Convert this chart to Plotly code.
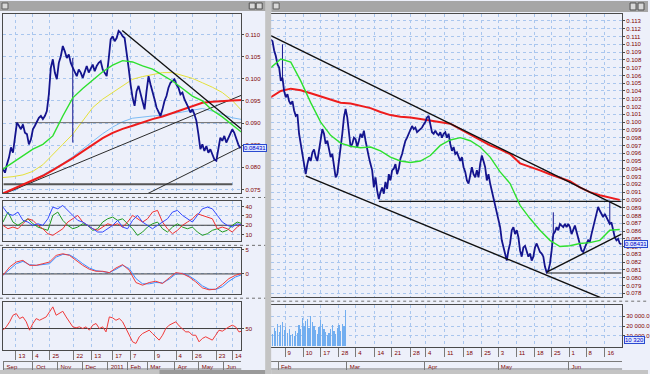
import plotly.graph_objects as go

W, H = 650, 374

# ---------------- LEFT WINDOW (daily bars; x = bar number) ----------------
left_close = [
    0.0796, 0.0788, 0.0807, 0.0822, 0.0845, 0.0833, 0.0867, 0.0901, 0.0894, 0.0886,
    0.0897, 0.0878, 0.0875, 0.0852, 0.0863, 0.0886, 0.0894, 0.0905, 0.0912, 0.0916,
    0.0909, 0.0916, 0.0927, 0.0965, 0.1025, 0.1044, 0.1014, 0.0999, 0.1036, 0.1051,
    0.1074, 0.1062, 0.1047, 0.1055, 0.1036, 0.1025, 0.1014, 0.1006, 0.1021, 0.1014,
    0.1002, 0.1017, 0.1029, 0.1014, 0.1025, 0.1032, 0.1017, 0.1029, 0.1036, 0.1040,
    0.1021, 0.1014, 0.1006, 0.1044, 0.1089, 0.1096, 0.1085, 0.1092, 0.1108, 0.1104,
    0.1096, 0.1092, 0.1062, 0.1025, 0.0987, 0.0957, 0.0939, 0.0972, 0.0984, 0.0965,
    0.0950, 0.0931, 0.0972, 0.1006, 0.0987, 0.0972, 0.0954, 0.0935, 0.0924, 0.0916,
    0.0931, 0.0950, 0.0961, 0.0980, 0.0991, 0.0995, 0.0999, 0.0987, 0.0980, 0.0965,
    0.0969, 0.0954, 0.0946, 0.0935, 0.0924, 0.0931, 0.0920, 0.0905, 0.0875, 0.0841,
    0.0852, 0.0837, 0.0848, 0.0833, 0.0841, 0.0830, 0.0818, 0.0815, 0.0845, 0.0867,
    0.0860, 0.0871, 0.0856, 0.0867, 0.0875, 0.0886, 0.0878, 0.0863, 0.0852, 0.0843,
]
left_wick_x = [35]
left_wick_hi = [0.1047]
left_wick_lo = [0.0856]

left_ma_x = [0, 5, 10, 15, 20, 25, 30, 35, 40, 45, 50, 55, 60, 65, 70, 75, 80, 85, 90, 95, 100, 105, 110, 115, 120]
left_ma_green = [0.0796, 0.0811, 0.0828, 0.0841, 0.0852, 0.0871, 0.0916, 0.0957, 0.0978, 0.0996, 0.1016, 0.1031, 0.1041,
                 0.1038, 0.1029, 0.1022, 0.1008, 0.0995, 0.0978, 0.0961, 0.0950, 0.0929, 0.0914, 0.0897, 0.0878]
left_ma_yellow = [0.0777, 0.0779, 0.0783, 0.0791, 0.0806, 0.0830, 0.0852, 0.0875, 0.0905, 0.0935, 0.0954, 0.0969, 0.0984,
                  0.0999, 0.1005, 0.1010, 0.1014, 0.1014, 0.1008, 0.1001, 0.0991, 0.0981, 0.0969, 0.0951, 0.0927]
left_ma_red = [0.0741, 0.0751, 0.0761, 0.0770, 0.0781, 0.0794, 0.0807, 0.0821, 0.0836, 0.0851, 0.0866, 0.0878, 0.0887,
               0.0894, 0.0902, 0.0909, 0.0915, 0.0923, 0.0931, 0.0939, 0.0946, 0.0948, 0.0950, 0.0951, 0.0952]
left_ma_blue_x = [5, 10, 15, 20, 25, 30, 35, 40, 45, 50, 55, 60, 65, 70, 75, 80, 85, 90, 95, 100, 105, 110, 115, 120]
left_ma_blue = [0.0746, 0.0758, 0.0770, 0.0783, 0.0796, 0.0809, 0.0824, 0.0841, 0.0860, 0.0876, 0.0891, 0.0903,
                0.0911, 0.0914, 0.0916, 0.0918, 0.0921, 0.0925, 0.0929, 0.0933, 0.0927, 0.0920, 0.0912, 0.0908]

# trend lines: (start bar, start price, end bar, end price)
left_trend_lines = [
    (59.8, 0.1109, 119.7, 0.0886),
    (1.0, 0.0741, 119.7, 0.0963),
    (72.7, 0.0741, 119.7, 0.0847),
]
left_levels = [(6.0, 119.7, 0.0901, "#6a6a6a", 1), (0.3, 115.0, 0.0762, "#555555", 2)]

adx_x = [i * 2.5 for i in range(49)]
adx_blue = [39.3, 32.2, 30.5, 34.0, 25.2, 23.4, 19.9, 21.6, 19.9, 26.9,
            39.3, 37.5, 41.1, 35.8, 30.5, 25.2, 23.4, 19.9, 16.3, 12.8,
            12.8, 16.3, 19.9, 25.2, 18.1, 16.3, 25.2, 30.5, 23.4, 19.9,
            16.3, 19.9, 23.4, 26.9, 34.0, 35.8, 30.5, 26.9, 23.4, 30.5,
            37.5, 39.3, 37.5, 30.5, 23.4, 19.9, 18.1, 21.6, 19.9]
adx_red = [19.9, 16.3, 18.1, 16.3, 21.6, 26.9, 25.2, 19.9, 16.3, 11.0,
           9.3, 12.8, 16.3, 23.4, 26.9, 30.5, 23.4, 19.9, 16.3, 14.6,
           18.1, 21.6, 19.9, 21.6, 18.1, 23.4, 30.5, 26.9, 23.4, 26.9,
           34.0, 35.8, 23.4, 16.3, 11.0, 14.6, 19.9, 23.4, 26.9, 32.2,
           30.5, 28.7, 26.9, 16.3, 18.1, 16.3, 12.8, 18.1, 21.6]
adx_green = [23.4, 34.0, 23.4, 19.9, 23.4, 26.9, 21.6, 18.1, 16.3, 14.6,
             30.5, 34.0, 25.2, 19.9, 16.3, 18.1, 21.6, 19.9, 14.6, 16.3,
             23.4, 26.9, 28.7, 25.2, 26.9, 21.6, 16.3, 9.3, 12.8, 18.1,
             21.6, 23.4, 16.3, 12.8, 18.1, 21.6, 18.1, 16.3, 18.1, 12.8,
             9.3, 11.0, 14.6, 16.3, 12.8, 14.6, 19.9, 23.4, 21.6]
adx_level = 20

macd_x = [i * 10 / 3 for i in range(37)]
macd_red = [-0.27, 1.44, 2.47, 2.81, 1.78, 1.78, 2.12, 2.47, 3.84, 4.18,
            3.84, 2.81, 1.78, 0.96, 0.55, 0.55, 0.27, 1.23, 1.92, 0.75,
            -1.78, -2.33, -1.78, -1.51, -1.99, -0.82, 0.27, 0.07, -0.62, -1.64,
            -2.88, -3.29, -3.15, -2.19, -0.96, -0.27, 0.14]
macd_blue = [-0.27, 0.96, 2.12, 2.60, 1.92, 1.78, 1.92, 2.12, 3.49, 4.04,
             3.97, 3.15, 2.12, 1.23, 0.68, 0.55, 0.27, 0.96, 1.78, 1.10,
             -0.96, -2.05, -2.05, -1.78, -1.85, -1.10, 0.0, 0.14, -0.41, -1.30,
             -2.47, -3.15, -3.22, -2.67, -1.51, -0.62, -0.14]

rsi_x = [i * 5 / 3 for i in range(73)]
rsi = [48.6, 51.4, 55.6, 61.1, 62.5, 58.3, 59.7, 55.6, 48.6, 54.2,
       58.3, 56.9, 58.3, 59.7, 63.9, 68.1, 61.1, 62.5, 64.4, 59.7,
       55.6, 51.4, 50.6, 51.4, 50.0, 51.4, 48.6, 52.8, 54.2, 50.0,
       51.4, 47.2, 59.7, 58.9, 56.9, 58.3, 55.6, 50.0, 43.1, 38.9,
       37.5, 43.1, 45.8, 47.2, 48.6, 45.8, 43.1, 40.3, 44.4, 50.0,
       52.8, 54.2, 55.6, 52.2, 50.0, 47.2, 47.2, 44.4, 44.4, 38.9,
       41.7, 43.1, 41.7, 40.3, 44.4, 48.6, 47.8, 50.0, 51.4, 52.8,
       51.4, 47.2, 47.8]
rsi_level = 50

left_price_ticks = [0.075, 0.080, 0.085, 0.090, 0.095, 0.100, 0.105, 0.110]
left_day_pos = [9.5, 17, 26.5, 38.5, 47.5, 58, 66, 78, 88.85, 98, 109.85, 118]
left_day_text = ["13", "4", "25", "22", "13", "17", "7", "9", "4", "26", "23", "14"]
left_day_sep = [6.5, 15, 23.5, 35.5, 44.5, 55, 64, 76, 86.85, 95, 106.85, 115]
left_month_pos = [4.5, 19, 31.5, 44, 57.25, 66.5, 76.5, 90, 102.5, 114.5]
left_month_text = ["Sep", "Oct", "Nov", "Dec", "2011", "Feb", "Mar", "Apr", "May", "Jun"]
left_month_sep = [0.5, 15, 27.5, 40, 52.5, 62.5, 72.5, 86, 98, 110.5]

# ---------------- RIGHT WINDOW (intraday bars; x = bar number) ----------------
right_close = [
    0.1106, 0.1104, 0.1092, 0.1085, 0.1074, 0.1070, 0.1053, 0.1057, 0.1040, 0.1032,
    0.1036, 0.1027, 0.1023, 0.1027, 0.1015, 0.1008, 0.1010, 0.0985, 0.0972, 0.0959,
    0.0950, 0.0933, 0.0946, 0.0955, 0.0950, 0.0961, 0.0965, 0.0955, 0.0950, 0.0963,
    0.0980, 0.0991, 0.0985, 0.0972, 0.0976, 0.0963, 0.0955, 0.0959, 0.0946, 0.0929,
    0.0933, 0.0950, 0.0963, 0.0985, 0.1006, 0.1017, 0.1006, 0.0989, 0.0968, 0.0972,
    0.0980, 0.0978, 0.0968, 0.0976, 0.0985, 0.0980, 0.0989, 0.0976, 0.0963, 0.0955,
    0.0946, 0.0938, 0.0916, 0.0929, 0.0912, 0.0901, 0.0910, 0.0916, 0.0908, 0.0923,
    0.0914, 0.0933, 0.0925, 0.0938, 0.0940, 0.0946, 0.0933, 0.0940, 0.0953, 0.0959,
    0.0968, 0.0976, 0.0980, 0.0985, 0.0989, 0.0995, 0.0991, 0.0993, 0.0987, 0.0989,
    0.0991, 0.0993, 0.0997, 0.1000, 0.1006, 0.1008, 0.0997, 0.0987, 0.0985, 0.0989,
    0.0985, 0.0983, 0.0987, 0.0980, 0.0985, 0.0987, 0.0980, 0.0985, 0.0972, 0.0963,
    0.0968, 0.0959, 0.0961, 0.0955, 0.0950, 0.0955, 0.0942, 0.0936, 0.0925, 0.0921,
    0.0933, 0.0942, 0.0933, 0.0929, 0.0938, 0.0929, 0.0946, 0.0957, 0.0950, 0.0942,
    0.0925, 0.0933, 0.0921, 0.0912, 0.0899, 0.0891, 0.0882, 0.0874, 0.0865, 0.0848,
    0.0839, 0.0829, 0.0822, 0.0835, 0.0844, 0.0861, 0.0865, 0.0856, 0.0861, 0.0852,
    0.0835, 0.0827, 0.0839, 0.0841, 0.0835, 0.0827, 0.0831, 0.0822, 0.0827, 0.0839,
    0.0844, 0.0837, 0.0833, 0.0831, 0.0827, 0.0814, 0.0807, 0.0809, 0.0818, 0.0835,
    0.0856, 0.0859, 0.0865, 0.0861, 0.0869, 0.0867, 0.0865, 0.0869, 0.0865, 0.0869,
    0.0865, 0.0856, 0.0861, 0.0867, 0.0859, 0.0852, 0.0844, 0.0835, 0.0833, 0.0839,
    0.0844, 0.0848, 0.0846, 0.0856, 0.0865, 0.0874, 0.0882, 0.0891, 0.0886, 0.0882,
    0.0878, 0.0882, 0.0878, 0.0874, 0.0869, 0.0871, 0.0861, 0.0852, 0.0848, 0.0850,
    0.0844, 0.0843,
]
right_wick_x = [7, 170, 204]
right_wick_hi = [0.1100, 0.0884, 0.0899]
right_wick_lo = [0.1053, 0.0856, 0.0869]

right_ma_x = [i * 6 for i in range(36)]
right_ma_green = [0.1070, 0.1081, 0.1077, 0.1053, 0.1025, 0.1000, 0.0983, 0.0973, 0.0969, 0.0967,
                  0.0968, 0.0963, 0.0955, 0.0950, 0.0948, 0.0950, 0.0957, 0.0970, 0.0977, 0.0980,
                  0.0976, 0.0968, 0.0955, 0.0936, 0.0921, 0.0893, 0.0876, 0.0861, 0.0848, 0.0840,
                  0.0841, 0.0844, 0.0845, 0.0848, 0.0861, 0.0862]
right_ma_red = [0.1032, 0.1040, 0.1043, 0.1041, 0.1037, 0.1033, 0.1028, 0.1025, 0.1024, 0.1021,
                0.1018, 0.1013, 0.1009, 0.1007, 0.1006, 0.1004, 0.1002, 0.1000, 0.0998, 0.0991,
                0.0984, 0.0977, 0.0970, 0.0965, 0.0959, 0.0947, 0.0943, 0.0938, 0.0933, 0.0928,
                0.0924, 0.0916, 0.0910, 0.0906, 0.0903, 0.0900]

right_trend_lines = [
    (0, 0.1111, 211, 0.0890),
    (21, 0.0931, 200, 0.0773),
    (166, 0.0807, 211, 0.0856),
]
right_levels = [(65, 211, 0.0898), (166, 211, 0.0806)]

volume_x = list(range(1, 46))
volume = [12000, 18000, 15000, 22000, 14000, 21000, 24000, 16000, 19000, 13000,
          17000, 11000, 12000, 10000, 15000, 13000, 21000, 17000, 28000, 20000,
          25000, 27000, 18000, 30000, 24000, 20000, 16000, 12000, 19000, 26000,
          22000, 17000, 14000, 11000, 13000, 17000, 21000, 15000, 12000, 18000,
          21000, 15000, 22000, 20000, 36000]
last_price = 0.08431
last_volume = 10320

right_price_ticks = [round(0.078 + 0.001 * n, 3) for n in range(36)]
volume_ticks = [10000, 20000, 30000]
right_day_pos = [11, 23, 33.6, 44.6, 53.6, 66.2, 76.4, 87.6, 95.6, 108, 119.6, 130.4, 139.4, 151.2, 162.2,
                 172.4, 182, 192.2, 204.6]
right_day_text = ["9", "10", "17", "28", "4", "14", "21", "28", "4", "11", "18", "25", "3", "11", "18",
                  "25", "1", "8", "16"]
right_day_sep = [8.6, 19.4, 30, 41, 51.2, 62.6, 72.8, 84, 93.2, 104.4, 116, 126.8, 137, 147.6, 158.6,
                 168.8, 179.6, 189.8, 201]
right_month_pos = [9.2, 50.6, 97.4, 141.8, 183.8]
right_month_text = ["Feb", "Mar", "Apr", "May", "Jun"]
right_month_sep = [4.4, 45.8, 92.6, 137, 179]

# ---------------- styling ----------------
BG = "#edf0fa"
GRID = "#a9c6ee"
FRAME = "#4a4a4a"
LBL = "#800000"
FONT = "Liberation Sans Narrow, Liberation Sans, Arial, sans-serif"
TF = dict(family=FONT, size=6, color=LBL)
NAVY = "#14148e"

LX = [0, 119.5]
RX = [0.2, 211.4]


def px(x):
    return x / W


def py(y):
    return 1 - y / H


fig = go.Figure()


def line(x, y, color, width, xa, ya, dash=None):
    fig.add_trace(go.Scatter(x=x, y=y, mode="lines", xaxis=xa, yaxis=ya, hoverinfo="skip",
                             line=dict(color=color, width=width, dash=dash), showlegend=False))


def wicks(xs, hi, lo, xa, ya):
    wx, wy = [], []
    for a, h, l in zip(xs, hi, lo):
        wx += [a, a, None]
        wy += [l, h, None]
    line(wx, wy, NAVY, 1, xa, ya)


# left main
line(left_ma_x, left_ma_yellow, "#e4e03a", 1, "x", "y")
line(left_ma_blue_x, left_ma_blue, "#7cbcf4", 1, "x", "y")
for x0, x1, lv, c, w in left_levels:
    line([x0, x1], [lv, lv], c, w, "x", "y")
for x0, y0, x1, y1 in left_trend_lines[1:]:
    line([x0, x1], [y0, y1], "#2a2a2a", 1, "x", "y")
line(left_ma_x, left_ma_red, "#ee1c1c", 2, "x", "y")
line(list(range(len(left_close))), left_close, NAVY, 1.8, "x", "y")
wicks(left_wick_x, left_wick_hi, left_wick_lo, "x", "y")
line(left_ma_x, left_ma_green, "#2ee02e", 1.4, "x", "y")
x0, y0, x1, y1 = left_trend_lines[0]
line([x0, x1], [y0, y1], "#101010", 1.4, "x", "y")

# left ADX
line([LX[0], LX[1]], [adx_level, adx_level], "#404040", 1, "x2", "y2")
line(adx_x, adx_green, "#1f9a1f", 1, "x2", "y2")
line(adx_x, adx_red, "#f03030", 1, "x2", "y2")
line(adx_x, adx_blue, "#3348ff", 1, "x2", "y2")

# left MACD
line([LX[0], LX[1]], [0, 0], "#404040", 1, "x3", "y3")
line(macd_x, macd_blue, "#3c8cff", 1, "x3", "y3")
line(macd_x, macd_red, "#f03a3a", 1, "x3", "y3")

# left RSI
line([LX[0], LX[1]], [rsi_level, rsi_level], "#404040", 1, "x4", "y4")
line(rsi_x, rsi, "#f03a3a", 1, "x4", "y4")
fig.add_trace(go.Scatter(x=[], y=[], xaxis="x7", yaxis="y4", showlegend=False))

# right main
for x0, x1, lv in right_levels:
    line([x0, x1], [lv, lv], "#1a1a1a", 1.2, "x5", "y5")
line(right_ma_x, right_ma_red, "#ee1c1c", 2, "x5", "y5")
line(list(range(len(right_close))), right_close, NAVY, 1.8, "x5", "y5")
wicks(right_wick_x, right_wick_hi, right_wick_lo, "x5", "y5")
line(right_ma_x, right_ma_green, "#2ee02e", 1.4, "x5", "y5")
for x0, y0, x1, y1 in right_trend_lines:
    line([x0, x1], [y0, y1], "#101010", 1.4, "x5", "y5")

# right volume
fig.add_trace(go.Bar(x=volume_x, y=volume, xaxis="x6", yaxis="y6", width=0.7,
                     marker=dict(color="#72aef0", line=dict(width=0)), showlegend=False, hoverinfo="skip"))
fig.add_trace(go.Scatter(x=[], y=[], xaxis="x8", yaxis="y6", showlegend=False))


def xax(dom, rng, sep, anchor):
    return dict(domain=dom, range=rng, anchor=anchor, tickmode="array", tickvals=sep,
                showticklabels=False, ticks="", showgrid=True, gridcolor=GRID, griddash="dot",
                gridwidth=1, showline=True, mirror=True, linecolor=FRAME, linewidth=1, zeroline=False,
                fixedrange=True)


def yax(dom, rng, tv, tt, anchor):
    return dict(domain=dom, range=rng, anchor=anchor, side="right", tickmode="array", tickvals=tv,
                ticktext=tt, tickfont=TF, ticks="outside", ticklen=2, tickcolor=FRAME,
                showgrid=True, gridcolor=GRID, griddash="dot", showline=True, mirror=True,
                linecolor=FRAME, linewidth=1, zeroline=False, fixedrange=True)


LXD = [px(3), px(242)]
RXD = [px(272), px(624)]

layout = dict(
    width=W, height=H, margin=dict(l=0, r=0, t=0, b=0),
    paper_bgcolor=BG, plot_bgcolor=BG, showlegend=False, hovermode=False, bargap=0,
    xaxis=xax(LXD, LX, left_day_sep, "y"),
    xaxis2=xax(LXD, LX, left_day_sep, "y2"),
    xaxis3=xax(LXD, LX, left_day_sep, "y3"),
    xaxis4=xax(LXD, LX, left_day_sep, "y4"),
    xaxis5=xax(RXD, RX, right_day_sep, "y5"),
    xaxis6=xax(RXD, RX, right_day_sep, "y6"),
    yaxis=yax([py(193), py(13)], [0.0741, 0.11464], left_price_ticks,
              [f"{v:.3f}" for v in left_price_ticks], "x"),
    yaxis2=yax([py(241), py(201)], [2.9, 45.3], [10, 20, 30, 40], ["10", "20", "30", "40"], "x2"),
    yaxis3=yax([py(294), py(248)], [-4.2, 5.3], [0, 5], ["0", "5"], "x3"),
    yaxis4=yax([py(350), py(302)], [32, 72], [rsi_level], [str(rsi_level)], "x4"),
    yaxis5=yax([py(297), py(13)], [0.07749, 0.1139], right_price_ticks,
               [f"{v:.3f}" for v in right_price_ticks], "x5"),
    yaxis6=yax([py(347), py(305)], [-1500, 41300], volume_ticks,
               [f"{v:,}".replace(",", " ") + ".0" for v in volume_ticks], "x6"),
)

for key, sep, pos, txt in (("xaxis4", left_day_sep, left_day_pos, left_day_text),
                           ("xaxis6", right_day_sep, right_day_pos, right_day_text)):
    layout[key].update(tickvals=pos, ticktext=txt, showticklabels=True, tickfont=TF, showgrid=False,
                       minor=dict(tickmode="array", tickvals=sep, ticks="outside", ticklen=9,
                                  tickcolor="#7a7a7a", showgrid=True, gridcolor=GRID, griddash="dot"))

for key, over, rng, pos, txt, sep in (("xaxis7", "x4", LX, left_month_pos, left_month_text, left_month_sep),
                                      ("xaxis8", "x6", RX, right_month_pos, right_month_text, right_month_sep)):
    layout[key] = dict(overlaying=over, anchor="free", position=py(361), range=rng,
                       tickmode="array", tickvals=pos, ticktext=txt, tickfont=TF, ticks="",
                       showgrid=False, showline=True, linecolor="#7a7a7a", zeroline=False,
                       minor=dict(tickmode="array", tickvals=sep, ticks="outside", ticklen=8,
                                  tickcolor="#7a7a7a", showgrid=False), fixedrange=True)

fig.update_layout(**layout)


def rect(x0, y0, x1, y1, fill, line_color=None):
    return dict(type="rect", xref="paper", yref="paper", x0=px(x0), x1=px(x1), y0=py(y1), y1=py(y0),
                fillcolor=fill, line=dict(width=1 if line_color else 0, color=line_color or fill),
                layer="above")


def hline(x0, x1, y, color, dash="dot"):
    return dict(type="line", xref="paper", yref="paper", x0=px(x0), x1=px(x1), y0=py(y), y1=py(y),
                line=dict(color=color, width=1, dash=dash), layer="above")


shapes = [
    rect(0, 0, 268, 10, "#a6a6a6"),
    rect(272, 0, 650, 11, "#a6a6a6"),
    rect(266, 0, 272, 374, "#c4c4c4"),
    rect(0, 370, 266, 374, "#c4c4c4"),
    rect(272, 370, 650, 374, "#c4c4c4"),
    rect(2, 2, 8, 8, "#d8d8d8", "#606060"),
    rect(274, 2, 280, 8, "#d8d8d8", "#606060"),
    rect(250, 2, 256, 8, "#d8d8d8", "#505050"),
    rect(257, 2, 263, 8, "#d8d8d8", "#505050"),
    rect(632, 2, 638, 9, "#d8d8d8", "#505050"),
    rect(640, 2, 646, 9, "#d8d8d8", "#505050"),
    rect(160, 370, 266, 374, "#9a9a9a"),
    hline(0, 266, 197, "#707070"),
    hline(0, 266, 245, "#707070"),
    hline(0, 266, 298, "#707070"),
    hline(272, 650, 301, "#707070"),
    hline(3, 242, 369, "#7a7a7a", "solid"),
    hline(272, 624, 369, "#7a7a7a", "solid"),
]
fig.update_layout(shapes=shapes)

box = dict(font=dict(family=FONT, size=6, color="#0000c8"), bgcolor="#dfe8ff", bordercolor="#2a4ad0",
           borderwidth=1, borderpad=0, showarrow=False, xanchor="left")
fig.add_annotation(x=px(244), xref="paper", y=last_price, yref="y", text=f"{last_price:.5f}", **box)
fig.add_annotation(x=px(626), xref="paper", y=last_price, yref="y5", text=f"{last_price:.5f}", **box)
fig.add_annotation(x=px(626), xref="paper", y=py(344), yref="paper",
                   text=f"{last_volume:,}".replace(",", " "), **box)

fig.write_html("out.html", config={"displayModeBar": False, "staticPlot": True},
               post_script="document.body.style.margin='0';document.body.style.padding='0';document.body.style.overflow='hidden';")
